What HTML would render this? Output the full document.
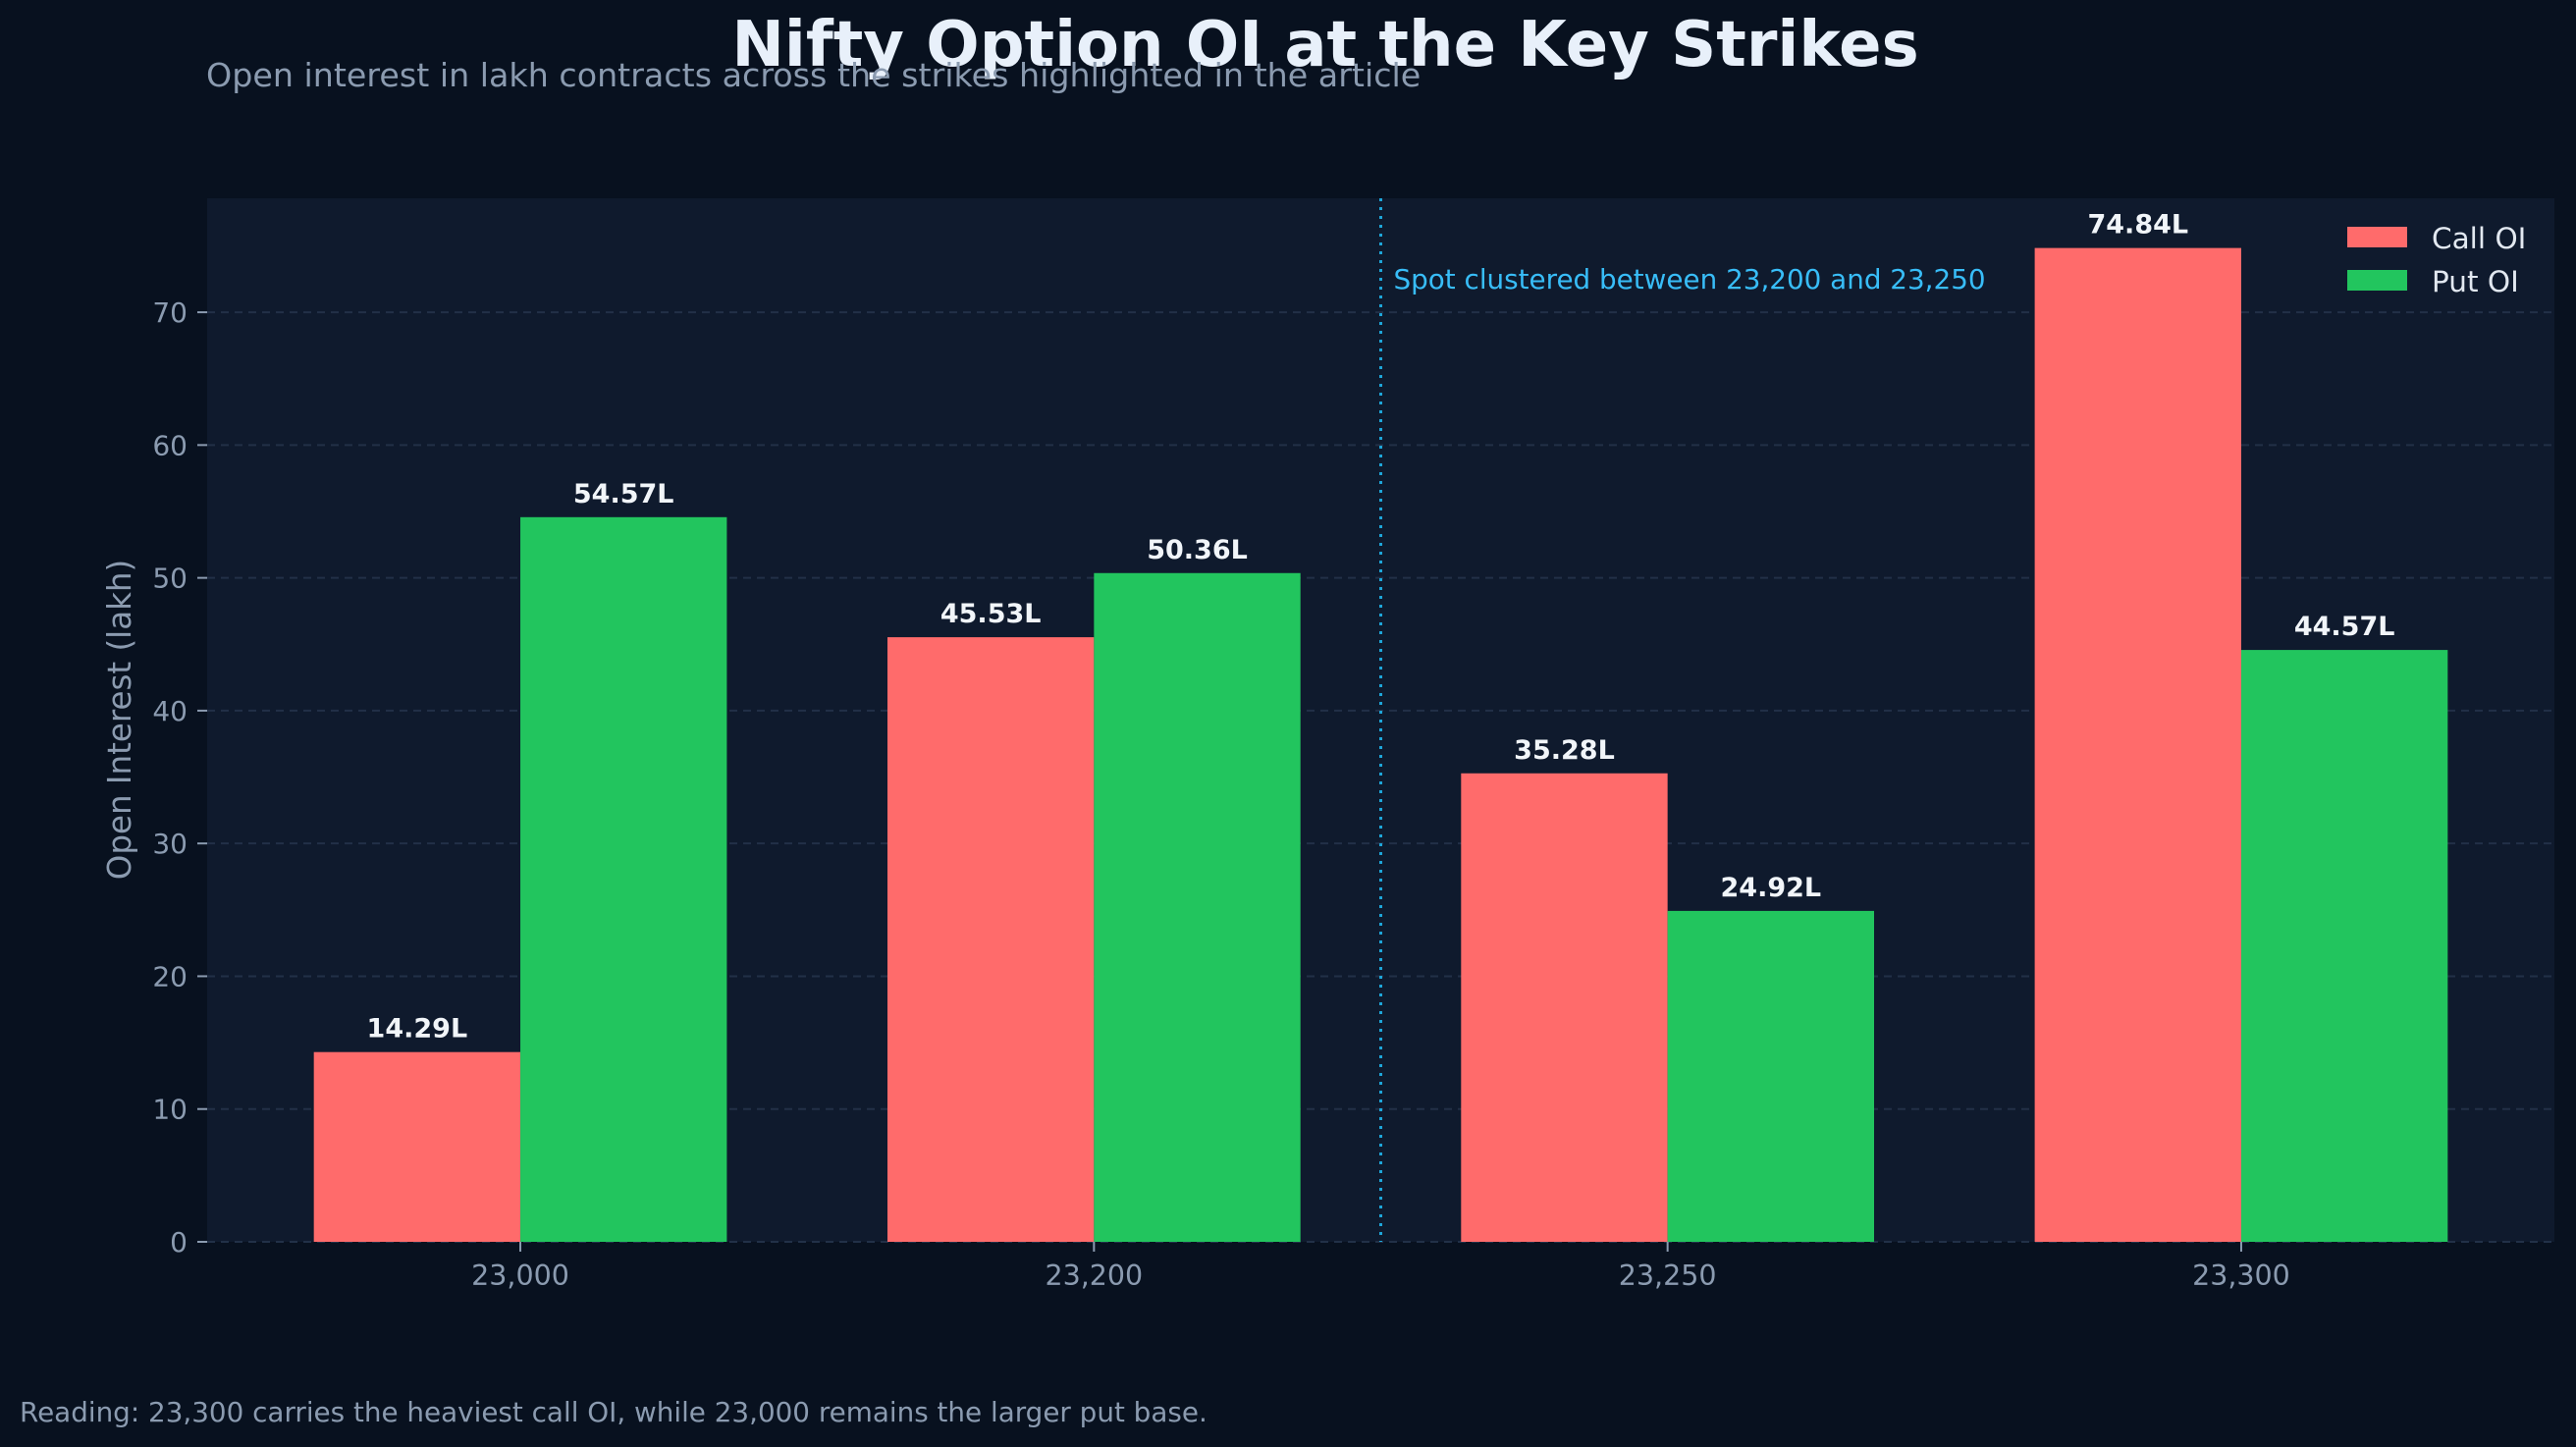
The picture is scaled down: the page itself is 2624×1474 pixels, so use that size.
<!DOCTYPE html>
<html><head><meta charset="utf-8"><style>
html,body{margin:0;padding:0;background:#08111f;}
svg{display:block;font-family:"DejaVu Sans","Liberation Sans",sans-serif;}
</style></head><body>
<svg id="chart" width="2624" height="1474" viewBox="0 0 2624 1474" xmlns="http://www.w3.org/2000/svg">
<rect x="0" y="0" width="2624" height="1474" fill="#08111f"/>
<text x="1350" y="67" text-anchor="middle" font-size="64" font-weight="bold" fill="#e8f0fa">Nifty Option OI at the Key Strikes</text>
<text x="210" y="88" font-size="33.3" fill="#8b9bb0">Open interest in lakh contracts across the strikes highlighted in the article</text>
<rect x="211" y="202" width="2391" height="1063" fill="#0f1a2d"/>
<g id="grid"></g>
<g id="bars"></g>
<g id="axes"></g>
<text transform="translate(133,733) rotate(-90)" text-anchor="middle" font-size="32.5" fill="#8b9bb0">Open Interest (lakh)</text>
<g>
<rect x="2391" y="231" width="61" height="21" fill="#ff6b6b"/>
<text x="2477" y="253" font-size="29.5" fill="#e2e8f0">Call OI</text>
<rect x="2391" y="275" width="61" height="21" fill="#22c55e"/>
<text x="2477" y="297" font-size="29.5" fill="#e2e8f0">Put OI</text>
</g>
<text x="20" y="1448" font-size="27.8" fill="#8b9bb0">Reading: 23,300 carries the heaviest call OI, while 23,000 remains the larger put base.</text>
</svg>
<script>
const categories = ["23,000", "23,200", "23,250", "23,300"];
const callOI = [14.29, 45.53, 35.28, 74.84];
const putOI = [54.57, 50.36, 24.92, 44.57];
const yTicks = [0, 10, 20, 30, 40, 50, 60, 70];
const spotMarker = 1.5;

const NS = "http://www.w3.org/2000/svg";
const plotL = 211, plotR = 2602, plotT = 202, plotB = 1265;
const yMax = Math.max(...callOI, ...putOI) * 1.05;
const xMin = -0.546, xMax = categories.length - 1 + 0.546;
const barW = 0.36;
function xs(v){ return plotL + (v - xMin) / (xMax - xMin) * (plotR - plotL); }
function ys(v){ return plotB - v / yMax * (plotB - plotT); }
function mk(tag, attrs, parent){ const e = document.createElementNS(NS, tag); for (const k in attrs) e.setAttribute(k, attrs[k]); parent.appendChild(e); return e; }

const grid = document.getElementById('grid');
const axes = document.getElementById('axes');
const bars = document.getElementById('bars');

yTicks.forEach(t => {
  const y = ys(t);
  const g = mk('line', {x1: plotL, x2: plotR, y1: y, y2: y, stroke: '#223047', 'stroke-width': 2, 'stroke-dasharray': '8 6'}, grid);
  
  
  const tk = mk('line', {x1: plotL - 10, x2: plotL, y1: y, y2: y, stroke: '#8b9bb0', 'stroke-width': 2}, axes);
  
  
  const lb = mk('text', {x: plotL - 20, y: y + 10, 'text-anchor': 'end', 'font-size': 28, fill: '#8b9bb0'}, axes);
  lb.textContent = String(t);
  
  
});

categories.forEach((c, i) => {
  const x = xs(i);
  const tk = mk('line', {x1: x, x2: x, y1: plotB, y2: plotB + 10, stroke: '#8b9bb0', 'stroke-width': 2}, axes);
  
  
  const lb = mk('text', {x: x, y: 1309, 'text-anchor': 'middle', 'font-size': 28.5, fill: '#8b9bb0'}, axes);
  lb.textContent = c;
  
  

  [[callOI[i], -barW, '#ff6b6b', 'call'], [putOI[i], 0, '#22c55e', 'put']].forEach(([v, off, col, nm]) => {
    const x0 = xs(i + off), x1 = xs(i + off + barW);
    const r = mk('rect', {x: x0, y: ys(v), width: x1 - x0, height: plotB - ys(v), fill: col}, bars);
    
    
    const t = mk('text', {x: (x0 + x1) / 2, y: ys(v) - 15, 'text-anchor': 'middle', 'font-size': 27, 'font-weight': 'bold', fill: '#f1f5f9'}, bars);
    t.textContent = v.toFixed(2) + 'L';
    
    
  });
});

const vx = xs(spotMarker);
const vl = mk('line', {x1: vx, x2: vx, y1: plotT, y2: plotB, stroke: '#1ea5d8', 'stroke-width': 3, 'stroke-dasharray': '3 6'}, bars);


const at = mk('text', {x: vx + 13, y: 294, 'font-size': 27.8, fill: '#38bdf8'}, bars);
at.textContent = 'Spot clustered between 23,200 and 23,250';


</script>
</body></html>
